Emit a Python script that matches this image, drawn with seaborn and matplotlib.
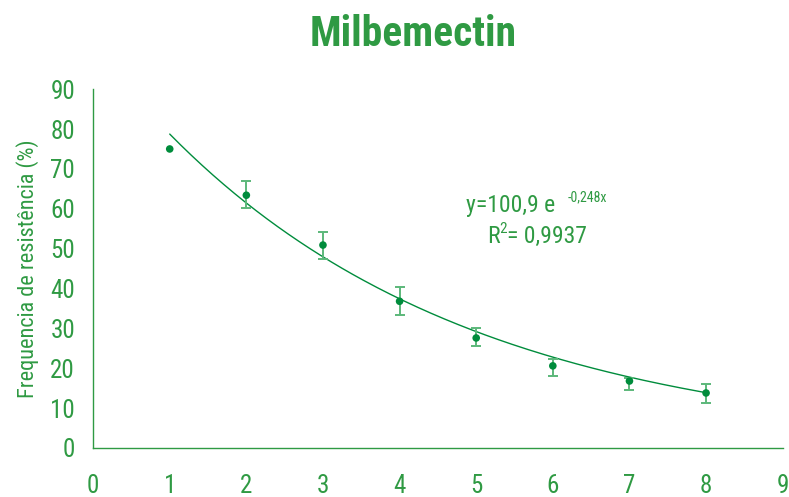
import numpy as np
import pandas as pd
import matplotlib
matplotlib.use("Agg")
import matplotlib.pyplot as plt
import seaborn as sns

# data
dose = [1, 2, 3, 4, 5, 6, 7, 8]
freq = [75.0, 63.4, 50.9, 36.8, 27.6, 20.6, 16.8, 13.8]
err_low = [0.0, 3.2, 3.5, 3.5, 2.0, 2.6, 2.3, 2.5]
err_high = [0.0, 3.5, 3.2, 3.6, 2.5, 1.7, 0.7, 2.2]
fit_a = 100.9
fit_b = -0.248
x_ticks = [0, 1, 2, 3, 4, 5, 6, 7, 8, 9]
y_ticks = [0, 10, 20, 30, 40, 50, 60, 70, 80, 90]

green = "#2f9a43"
dot_green = "#008c3c"

sns.set_style("white")
plt.rcParams['font.family'] = ['Roboto Condensed', 'DejaVu Sans']

df = pd.DataFrame({"dose": dose, "freq": freq})
xs = np.linspace(1, 8, 200)
fit = pd.DataFrame({"dose": xs, "freq": fit_a * np.exp(fit_b * xs)})

fig = plt.figure(figsize=(7.89, 4.97), dpi=100)
ax = fig.add_axes([0.118, 0.0986, 0.874, 0.722])

sns.lineplot(data=fit, x="dose", y="freq", color=dot_green, lw=1.0, ax=ax)
# error bars only where an interval was drawn
eb = df.assign(lo=err_low, hi=err_high)
eb = eb[(eb.lo > 0) | (eb.hi > 0)]
ax.errorbar(eb.dose, eb.freq, yerr=[eb.lo, eb.hi], fmt="none",
            ecolor="#5cb87a", elinewidth=1.4, capsize=3.5, capthick=1.4)
sns.scatterplot(data=df, x="dose", y="freq", color=dot_green, s=30,
                edgecolor="none", zorder=5, ax=ax)

ax.set_xlim(0, 9)
ax.set_ylim(0, 90)
ax.set_xticks(x_ticks)
ax.set_yticks(y_ticks)
ax.tick_params(axis="both", length=0, labelsize=18, labelcolor=green)
ax.tick_params(axis="x", pad=19)
ax.tick_params(axis="y", pad=13)
ax.set_xlabel("")
ax.set_ylabel("Frequencia de resistência (%)", fontsize=16, color=green)
ax.yaxis.set_label_coords(-0.079, 0.5)

sns.despine(ax=ax)
for s in ["left", "bottom"]:
    ax.spines[s].set_color(green)
    ax.spines[s].set_linewidth(1.0)

ax.text(4.865, 59.15, "y=100,9 e", fontsize=17, color=green, va="baseline")
ax.text(6.19, 61.9, "-0,248x", fontsize=10, color=green, va="baseline")
ax.text(5.139, 51.4, "R", fontsize=17, color=green, va="baseline")
ax.text(5.30, 53.9, "2", fontsize=11, color=green, va="baseline")
ax.text(5.40, 51.4, "= 0,9937", fontsize=17, color=green, va="baseline")

fig.text(0.524, 0.93, "Milbemectin", ha="center", va="center",
         fontsize=30, fontweight="semibold", color=green)

fig.savefig("out.png", dpi=100)
